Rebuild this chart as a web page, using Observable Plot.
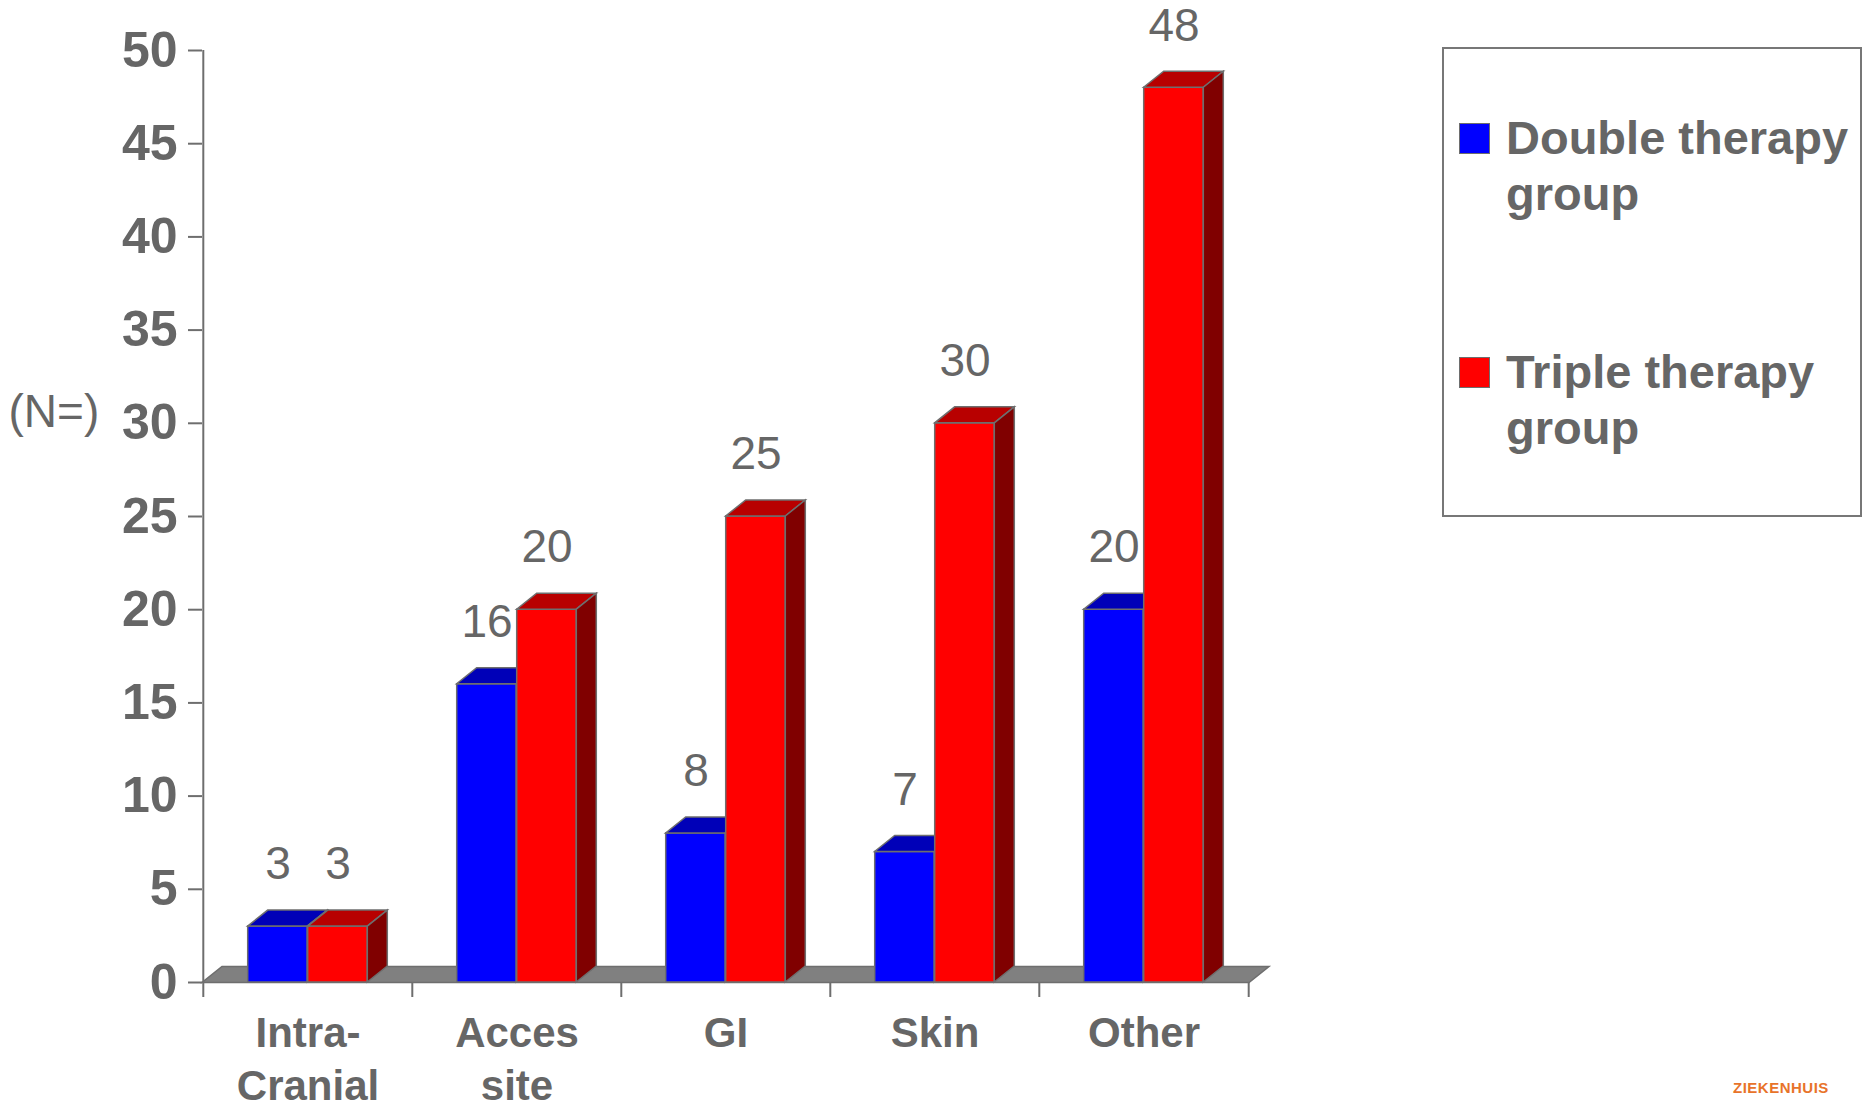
<!DOCTYPE html>
<html>
<head>
<meta charset="utf-8">
<script src="https://cdn.jsdelivr.net/npm/d3@7"></script>
<script src="https://cdn.jsdelivr.net/npm/@observablehq/plot@0.6"></script>
<style>
  html, body { margin: 0; padding: 0; background: #fff; }
  #wrap { position: relative; width: 1872px; height: 1102px; overflow: hidden;
          font-family: "Liberation Sans", Arial, sans-serif; color: #666; }
  #chart { position: absolute; left: 0; top: 0; }
  #legend { position: absolute; left: 1442px; top: 47px; width: 420px; height: 470px;
            border: 2px solid #777; box-sizing: border-box; }
  .sw { position: absolute; left: 1459px; width: 31px; height: 31px; box-sizing: border-box;
        border: 1.5px solid #6e6e6e; }
  .lt { position: absolute; left: 1506px; font: bold 47px/56px "Liberation Sans", Arial, sans-serif;
        color: #666; white-space: nowrap; }
  #logo { position: absolute; left: 1733px; top: 1079px; font: bold 15px/18px "Liberation Sans", Arial, sans-serif;
          color: #e8732a; letter-spacing: 0.5px; }
</style>
</head>
<body>
<div id="wrap">
  <div id="chart"></div>
  <div id="legend"></div>
  <div id="logo">ZIEKENHUIS</div>
</div>
<script>
// ---- data ----
const categories = ["Intra-Cranial", "Acces site", "GI", "Skin", "Other"];
const tickLabels = ["Intra-\nCranial", "Acces\nsite", "GI", "Skin", "Other"];
const seriesNames = ["Double therapy group", "Triple therapy group"];
const doubleValues = [3, 16, 8, 7, 20];
const tripleValues = [3, 20, 25, 30, 48];
const yTicks = [0, 5, 10, 15, 20, 25, 30, 35, 40, 45, 50];
const yLabel = "(N=)";

// ---- styles ----
const frontColors = ["#0000ff", "#ff0000"];
const topColors = ["#0000b8", "#b80000"];
const sideColors = ["#000080", "#800000"];
const edge = "#6e6e6e";
const gray = "#666666";

const W = 1872, H = 1102;
const mL = 202, mR = 623, mT = 50, mB = 120;
const band = (W - mL - mR) / categories.length;
const barW = 60;
const gap = (band - 2 * barW) / 2;
const DX = 20, DY = -16;

const seriesRows = [doubleValues, tripleValues].map((vals, si) =>
  categories.map((c, ci) => ({cat: c, series: seriesNames[si], value: vals[ci]})));

const ns = "http://www.w3.org/2000/svg";
function poly(points, fill) {
  const p = document.createElementNS(ns, "polygon");
  p.setAttribute("points", points.map(d => d.join(",")).join(" "));
  p.setAttribute("fill", fill);
  return p;
}
function extrude(topFill, sideFill) {
  return function (index, scales, values, dims, ctx, next) {
    const g = next(index, scales, values, dims, ctx);
    g.querySelectorAll("rect").forEach(r => {
      const x = +r.getAttribute("x"), y = +r.getAttribute("y");
      const w = +r.getAttribute("width"), h = +r.getAttribute("height");
      const top = poly([[x, y], [x + w, y], [x + w + DX, y + DY], [x + DX, y + DY]], topFill);
      const side = poly([[x + w, y], [x + w + DX, y + DY], [x + w + DX, y + h + DY], [x + w, y + h]], sideFill);
      r.after(top, side);
    });
    return g;
  };
}
function floorRender(index, scales, values, dims, ctx, next) {
  const g = next(index, scales, values, dims, ctx);
  g.querySelectorAll("line").forEach(l => {
    const x1 = +l.getAttribute("x1"), x2 = +l.getAttribute("x2"), y = +l.getAttribute("y1");
    const p = poly([[x1, y], [x2, y], [x2 + DX, y + DY], [x1 + DX, y + DY]], "#808080");
    p.setAttribute("stroke", edge);
    p.setAttribute("stroke-width", 1.5);
    l.replaceWith(p);
  });
  return g;
}

const barMarks = seriesRows.map((rows, si) => Plot.barY(rows, {
  x: "cat", y: "value", fill: frontColors[si], stroke: edge, strokeWidth: 1.5,
  insetLeft: si === 0 ? gap : gap + barW, insetRight: si === 0 ? gap + barW : gap,
  render: extrude(topColors[si], sideColors[si])
}));
const labelMarks = seriesRows.map((rows, si) => Plot.text(rows, {
  x: "cat", y: "value", text: d => String(d.value),
  dx: si === 0 ? -barW / 2 : barW / 2, dy: -62,
  fontSize: 46, fill: gray
}));

const chart = Plot.plot({
  width: W, height: H,
  marginLeft: mL, marginRight: mR, marginTop: mT, marginBottom: mB,
  style: {fontFamily: "'Liberation Sans', Arial, sans-serif", color: gray, background: "white", overflow: "visible"},
  x: {type: "band", domain: categories, padding: 0},
  y: {domain: [0, 50]},
  marks: [
    Plot.ruleY([0], {stroke: edge, render: floorRender}),
    Plot.ruleX([categories[0]], {x: d => d, dx: -band / 2, y1: 50, y2: 0, insetBottom: -15, stroke: edge, strokeWidth: 2}),
    Plot.ruleX(categories.slice(1), {x: d => d, dx: -band / 2, y1: 0, y2: 0, insetBottom: -15, stroke: edge, strokeWidth: 2}),
    Plot.ruleX([categories[categories.length - 1]], {x: d => d, dx: band / 2, y1: 0, y2: 0, insetBottom: -15, stroke: edge, strokeWidth: 2}),
    Plot.axisY({ticks: yTicks, tickSize: 14, tickPadding: 11, fontSize: 50, fontWeight: "bold", label: null, stroke: edge, strokeWidth: 2}),
    Plot.axisX({tickSize: 0, tickPadding: 28, fontSize: 42, fontWeight: "bold", lineHeight: 1.24,
                tickFormat: c => tickLabels[categories.indexOf(c)], label: null}),
    Plot.text([yLabel], {text: d => d, frameAnchor: "left", textAnchor: "start", dx: -194, dy: -104, fontSize: 46, fill: gray}),
    ...barMarks,
    ...labelMarks
  ]
});
document.getElementById("chart").append(chart);

// ---- legend ----
const wrap = document.getElementById("wrap");
const legendTops = [110, 344];
seriesNames.forEach((name, i) => {
  const sw = document.createElement("div");
  sw.className = "sw";
  sw.style.top = (legendTops[i] + 13) + "px";
  sw.style.background = frontColors[i];
  wrap.append(sw);
  const t = document.createElement("div");
  t.className = "lt";
  t.style.top = legendTops[i] + "px";
  const k = name.lastIndexOf(" ");
  t.append(name.slice(0, k), document.createElement("br"), name.slice(k + 1));
  wrap.append(t);
});
</script>
</body>
</html>
